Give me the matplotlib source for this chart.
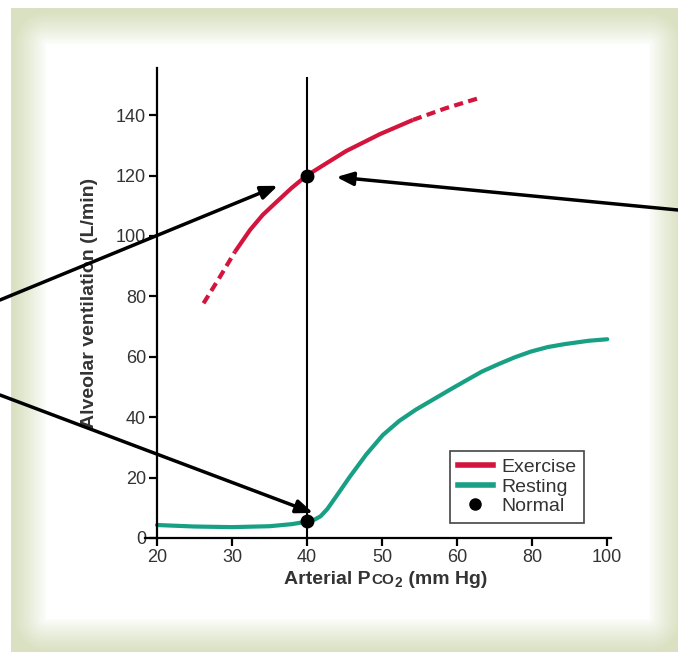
import numpy as np
import matplotlib.pyplot as plt
from matplotlib.lines import Line2D
from matplotlib.offsetbox import TextArea, HPacker, AnchoredOffsetbox

plt.rcParams['font.family'] = ['Liberation Sans', 'DejaVu Sans']
plt.rcParams['mathtext.fontset'] = 'custom'
plt.rcParams['mathtext.bf'] = 'Liberation Sans:bold'
plt.rcParams['mathtext.rm'] = 'Liberation Sans'

# x axis: 20..60 in steps of 10, then 60..100 in steps of 20, equally spaced ticks
xticks = [20, 30, 40, 50, 60, 80, 100]
yticks = [0, 20, 40, 60, 80, 100, 120, 140]

# exercise curve, dashed at both ends
ex_x = [26.2, 28.4, 30.4, 32.4, 34.1, 35.9, 37.9, 39.9, 42.6, 45.2, 49.7, 54.1,
        58.5, 65.7]
ex_y = [77.7, 86.5, 94.8, 102.0, 107.0, 111.2, 115.8, 119.9, 124.1, 128.1, 133.7,
        138.4, 142.3, 145.6]
ex_solid = (2, 11)  # index range of the solid part

# resting curve
rest_x = [20, 25, 30, 35, 38, 39.9, 41.0, 41.8, 42.7, 44.0, 45.7, 47.9, 50.1, 52.3,
          54.5, 56.7, 58.9, 62.3, 66.6, 70.9, 75.3, 79.6, 84.1, 88.7, 95.1, 100]
rest_y = [4.3, 3.8, 3.6, 3.9, 4.6, 5.4, 6.1, 7.2, 9.6, 14.2, 20.3, 27.7, 34.1, 38.8,
          42.5, 45.7, 48.9, 52.1, 55.1, 57.5, 59.8, 61.7, 63.2, 64.2, 65.3, 65.8]

normal_x = [40, 40]
normal_y = [120, 5.5]

RED = '#d3143c'
TEAL = '#17a084'
TXT = '#333333'


def fwd(x):
    x = np.asarray(x, float)
    return np.where(x <= 60, (x - 20) / 10, 4 + (x - 60) / 20)


def inv(p):
    p = np.asarray(p, float)
    return np.where(p <= 4, 20 + 10 * p, 60 + 20 * (p - 4))


W, H = 678, 652
fig = plt.figure(figsize=(W / 100, H / 100), dpi=100)

# greenish frame with soft inner white panel
yy, xx = np.mgrid[0:H, 0:W]
dx = np.maximum(np.maximum(46 - xx, xx - 648), 0)
dy = np.maximum(np.maximum(44 - yy, yy - 618), 0)
t = np.clip(np.hypot(dx, dy) / 32, 0, 1) ** 0.8
green = np.array([0.855, 0.885, 0.765])
img = 1 - t[..., None] * (1 - green)
img[(xx < 11) | (yy < 8)] = 1
bg = fig.add_axes([0, 0, 1, 1], zorder=0)
bg.imshow(img, aspect='auto', interpolation='nearest')
bg.axis('off')

ax = fig.add_axes([145 / W, 1 - 538 / H, 466 / W, 470 / H], zorder=1)
ax.set_facecolor('none')
ax.set_xscale('function', functions=(fwd, inv))
ax.set_xlim(18.4, 101)
ax.set_ylim(0, 155.6)

s0, s1 = ex_solid
ax.plot(ex_x[:s0 + 1], ex_y[:s0 + 1], color=RED, lw=3, ls=(0, (2.2, 1.3)),
        dash_capstyle='butt')
ax.plot(ex_x[s0:s1 + 1], ex_y[s0:s1 + 1], color=RED, lw=3, solid_capstyle='butt',
        solid_joinstyle='round')
ax.plot(ex_x[s1:], ex_y[s1:], color=RED, lw=3, ls=(0, (2.2, 1.3)),
        dash_capstyle='butt')
ax.plot(rest_x, rest_y, color=TEAL, lw=3, solid_capstyle='round',
        solid_joinstyle='round')

ax.vlines(40, 0, 152.5, color='k', lw=1.5, zorder=3)
ax.plot(normal_x, normal_y, 'o', color='k', ms=9, zorder=4, ls='none')

for sp in ['top', 'right']:
    ax.spines[sp].set_visible(False)
ax.spines['left'].set_position(('data', 20))
for sp in ['left', 'bottom']:
    ax.spines[sp].set_linewidth(1.6)

ax.set_xticks(xticks)
ax.set_xticklabels([str(v) for v in xticks])
ax.set_yticks(yticks)
ax.minorticks_off()
ax.tick_params(direction='out', length=6, width=1.6, labelsize=13,
               labelcolor=TXT, pad=2)

# x label with small-caps CO and subscript 2
lab_kw = dict(fontsize=14, fontweight='bold', color=TXT)
parts = [TextArea('Arterial P', textprops=lab_kw),
         TextArea('CO', textprops=dict(lab_kw, fontsize=11)),
         TextArea(r'$\mathbf{_2}$', textprops=lab_kw),
         TextArea(' (mm Hg)', textprops=lab_kw)]
xlab = AnchoredOffsetbox(loc='upper center',
                         child=HPacker(children=parts, align='baseline', pad=0, sep=0),
                         bbox_to_anchor=(0.517, -0.07), bbox_transform=ax.transAxes,
                         frameon=False, pad=0, borderpad=0)
ax.add_artist(xlab)

ax.set_ylabel('Alveolar ventilation (L/min)', fontsize=14, fontweight='bold',
              color=TXT)
ax.yaxis.set_label_coords(-0.101, 0.5)

handles = [Line2D([], [], color=RED, lw=4),
           Line2D([], [], color=TEAL, lw=4),
           Line2D([], [], marker='o', color='k', ls='none', ms=8)]
leg = ax.legend(handles, ['Exercise', 'Resting', 'Normal'], loc='lower left',
                bbox_to_anchor=(0.654, 0.032), fontsize=14, fancybox=False,
                edgecolor='#444444', framealpha=1, borderpad=0.4,
                labelspacing=0.1, handlelength=1.8, handletextpad=0.45,
                borderaxespad=0)
leg.get_frame().set_linewidth(1.2)
for txt in leg.get_texts():
    txt.set_color(TXT)

arrow = dict(arrowstyle='-|>,head_length=1.0,head_width=0.4', lw=2.5,
             color='k', shrinkA=0, shrinkB=0)
ax.annotate('', xy=(36.1, 116.6), xytext=(0, 1 - 300 / H),
            textcoords='figure fraction', arrowprops=arrow,
            annotation_clip=False, zorder=6)
ax.annotate('', xy=(40.8, 8.3), xytext=(0, 1 - 395 / H),
            textcoords='figure fraction', arrowprops=arrow,
            annotation_clip=False, zorder=6)
ax.annotate('', xy=(43.9, 119.5), xytext=(1, 1 - 210 / H),
            textcoords='figure fraction', arrowprops=arrow,
            annotation_clip=False, zorder=6)

fig.savefig('out.png', dpi=100)
